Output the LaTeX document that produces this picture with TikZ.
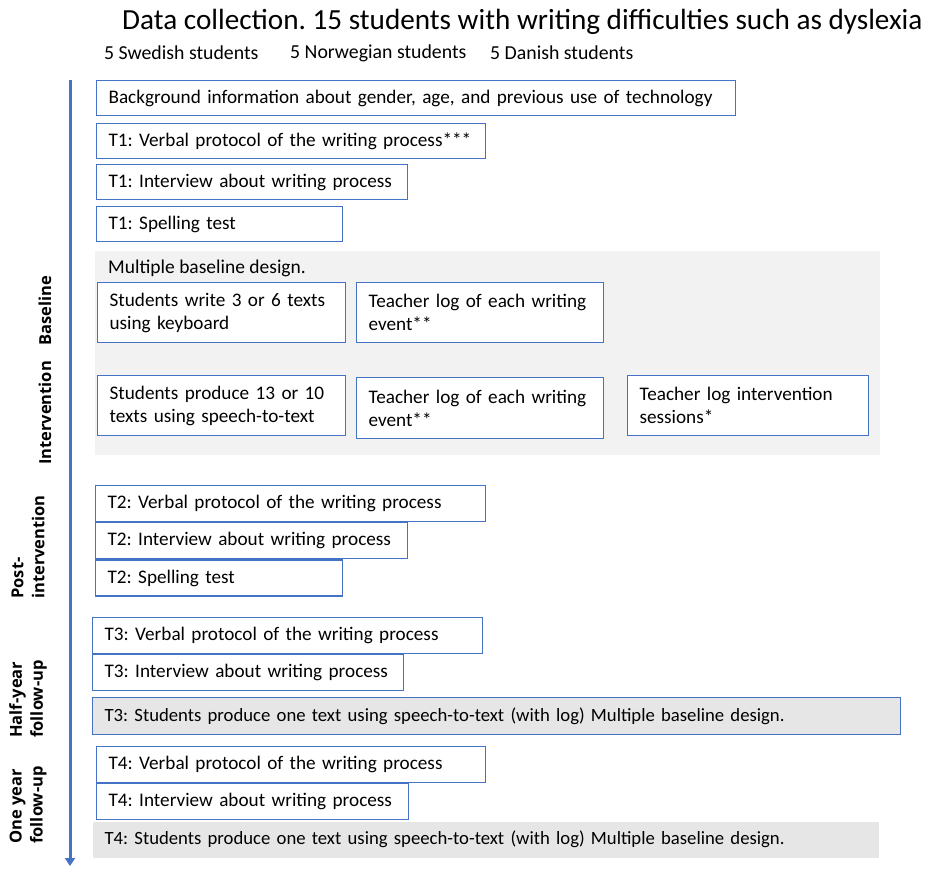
\documentclass[tikz,border=0pt]{standalone}
\usepackage{fontspec}
\setmainfont{Carlito}
\newfontfamily\sidefont{Open Sans}
\usetikzlibrary{arrows.meta, positioning}
\definecolor{boxblue}{HTML}{4472C4}
\definecolor{panelgray}{HTML}{F2F2F2}
\definecolor{bargray}{HTML}{E7E6E6}
\frenchspacing

\begin{document}
\begin{tikzpicture}[x=1pt, y=-1pt,
      box/.style={draw=boxblue, line width=1.2pt, fill=white, anchor=north west,
                  inner xsep=12pt, inner ysep=0pt, minimum height=36pt,
                  align=left, font=\fontsize{19.2}{23}\selectfont},
      twoline/.style={box, minimum height=60pt},
      bar/.style={box, fill=bargray, font=\fontsize{18.7}{23}\selectfont},
      plain/.style={anchor=west, inner sep=0pt},
      phase/.style={rotate=90, align=left, inner sep=0pt,
                    font=\sidefont\bfseries\fontsize{16.5}{21}\selectfont},
      timeline/.style={-{Triangle[width=10pt, length=8pt]}, boxblue, line width=3pt} ]
    \useasboundingbox (0,0) rectangle (928,868);

    % heading
    \node[plain, font=\fontsize{29.2}{33}\selectfont] (title) at (122,22)
      {Data collection. 15 students with writing difficulties such as dyslexia};
    \node[plain, font=\fontsize{19.8}{22}\selectfont] (swe) at (104,53) {5 Swedish students};
    \node[plain, font=\fontsize{19.8}{22}\selectfont] (nor) at (290,53) {5 Norwegian students};
    \node[plain, font=\fontsize{19.8}{22}\selectfont] (dan) at (490,53) {5 Danish students};

    % time axis
    \coordinate (tltop) at (70,80);
    \coordinate (tlend) at (70,866);
    \draw[timeline] (tltop) -- (tlend);

    % phase labels
    \node[phase] (base)   at (45,311) {Baseline};
    \node[phase] (interv) at (45,413) {Intervention};
    \node[phase] (post)   at (28,547) {Post-\\intervention};
    \node[phase] (half)   at (28,699) {Half-year\\follow-up};
    \node[phase] (oneyr)  at (28,805) {One year\\follow-up};

    % T1
    \node[box, text width=615pt, minimum height=35pt] (backgr) at (96,80)
      {Background information about gender, age, and previous use of technology};
    \node[box, text width=365pt, minimum height=35pt] (verbalA) at (96,123)
      {T1: Verbal protocol of the writing process***};
    \node[box, text width=287pt, minimum height=35pt] (interA) at (96,164)
      {T1: Interview about writing process};
    \node[box, text width=222pt, minimum height=35pt] (spellA) at (96,206)
      {T1: Spelling test};

    % baseline and intervention
    \node[fill=panelgray, anchor=north west, inner sep=0pt,
          minimum width=785pt, minimum height=204pt] (panel) at (95,251) {};
    \node[plain, font=\fontsize{19.5}{23}\selectfont] (mbd) at (108,268) {Multiple baseline design.};
    \node[twoline, text width=224pt] (keyb) at (97,282)
      {Students write 3 or 6 texts\\using keyboard};
    \node[twoline, text width=223pt] (logA) at (356,282)
      {Teacher log of each writing\\event**};
    \node[twoline, text width=224pt] (speech) at (97,375)
      {Students produce 13 or 10\\texts using speech-to-text};
    \node[twoline, text width=223pt, minimum height=61pt] (logB) at (356,377)
      {Teacher log of each writing\\event**};
    \node[twoline, text width=217pt] (sessions) at (627,375)
      {Teacher log intervention\\sessions*};

    % T2
    \node[box, text width=366pt] (verbalB) at (95,485)
      {T2: Verbal protocol of the writing process};
    \node[box, text width=288pt, below=0pt of verbalB.south west, anchor=north west] (interB)
      {T2: Interview about writing process};
    \node[box, text width=223pt, below=0pt of interB.south west, anchor=north west] (spellB)
      {T2: Spelling test};

    % T3
    \node[box, text width=366pt] (verbalC) at (92,617)
      {T3: Verbal protocol of the writing process};
    \node[box, text width=287pt, below=0pt of verbalC.south west, anchor=north west] (interC)
      {T3: Interview about writing process};
    \node[bar, text width=784pt, minimum height=37pt] (textC) at (92,697)
      {T3: Students produce one text using speech-to-text (with log) Multiple baseline design.};

    % T4
    \node[box, text width=365pt] (verbalD) at (96,746)
      {T4: Verbal protocol of the writing process};
    \node[box, text width=288pt, below=0pt of verbalD.south west, anchor=north west] (interD)
      {T4: Interview about writing process};
    \node[bar, draw=none, text width=762pt] (textD) at (92,821)
      {T4: Students produce one text using speech-to-text (with log) Multiple baseline design.};
  \end{tikzpicture}
\end{document}
